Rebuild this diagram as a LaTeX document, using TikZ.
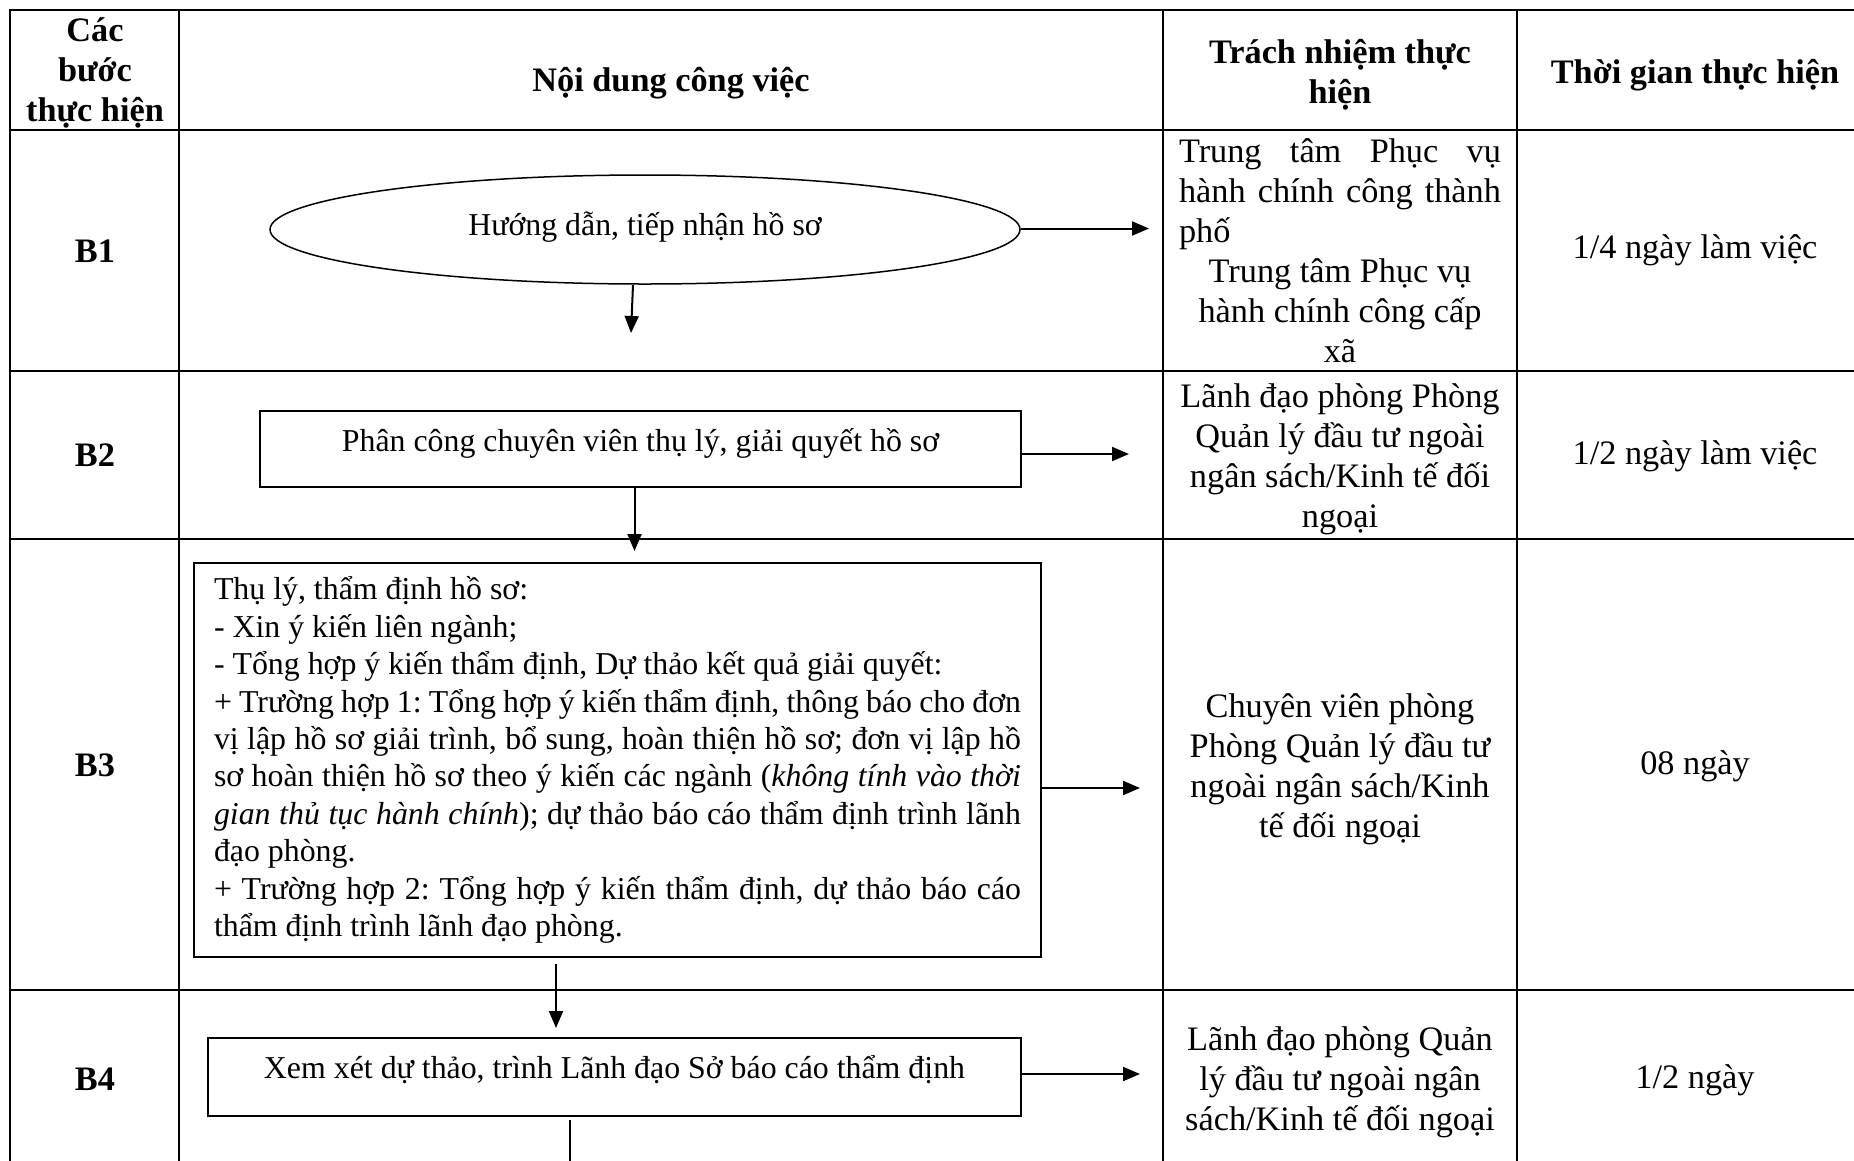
\documentclass[tikz,border=0pt]{standalone}
\usepackage{fontspec}
\setmainfont{Liberation Serif}
\usetikzlibrary{arrows.meta,shapes.geometric}

% type sizes: table cells and flow-chart boxes
\newcommand\celltext{\fontsize{34.3pt}{40pt}\selectfont}
\newcommand\flowtext{\fontsize{31.85pt}{37.4pt}\selectfont}
% fixed word spaces, as the font defines them
\newcommand\plainspaces{\spaceskip=\fontdimen2\font\relax\xspaceskip=0pt\frenchspacing}
% a line whose spaces stretch (or shrink) evenly to the given width
\newcommand\fullline[2]{\makebox[#1][s]{\spaceskip=\fontdimen2\font plus 1fil minus \fontdimen4\font\relax #2}}
% raise a label inside its box by adding depth below it
\newcommand\liftup[2]{\raisebox{0pt}[\height][\dimexpr\depth+#1\relax]{#2}}

\begin{document}
\begin{tikzpicture}[x=1pt,y=-1pt,
  execute at begin node=\plainspaces,
  rule/.style={line width=2.2pt},
  flowbox/.style={draw, rectangle, line width=1.8pt, inner sep=0pt, font=\flowtext},
  flowarrow/.style={line width=2pt, -{Triangle[length=17pt,width=14pt]}},
  head/.style={font=\celltext\bfseries, align=center, inner sep=0pt},
  stepname/.style={font=\celltext\bfseries, inner sep=0pt},
  cell/.style={font=\celltext, align=center, text width=350pt, inner sep=0pt},
  timecell/.style={font=\celltext, inner sep=0pt}]

\useasboundingbox (0,0) rectangle (1854,1160);
\fill[white] (0,0) rectangle (1854,1160);
\clip (0,0) rectangle (1854,1160);

% table frame and rules
\draw[rule] (10,10) rectangle (1873,1170);
\foreach \y in {130,371,539,990} \draw[rule] (10,\y) -- (1873,\y);
\foreach \x in {179,1163,1517} \draw[rule] (\x,10) -- (\x,1170);

% header row
\node[head] (hstep) at (95,73) {Các\\bước\\thực hiện};
\node[head] (hwork) at (671,83) {Nội dung công việc};
\node[head] (hresp) at (1340,75) {Trách nhiệm thực\\hiện};
\node[head] (htime) at (1695,75) {Thời gian thực hiện};

% step names
\node[stepname] (s1) at (95,251) {B1};
\node[stepname] (s2) at (95,455) {B2};
\node[stepname] (s3) at (95,765) {B3};
\node[stepname] (s4) at (95,1079) {B4};

% flow chart
\node[draw, ellipse, line width=1.5pt, inner sep=0pt, font=\flowtext,
      minimum width=750pt, minimum height=109pt] (e1) at (645,229.5)
      {\liftup{4pt}{Hướng dẫn, tiếp nhận hồ sơ}};

\node[flowbox, minimum width=761pt, minimum height=76pt] (b2) at (640.5,449)
      {\liftup{12pt}{Phân công chuyên viên thụ lý, giải quyết hồ sơ}};

\node[flowbox, minimum width=847pt, minimum height=394pt, align=left,
      text width=807pt] (b3) at (617.5,760) {%
Thụ lý, thẩm định hồ sơ:\\
- Xin ý kiến liên ngành;\\
- Tổng hợp ý kiến thẩm định, Dự thảo kết quả giải quyết:\\
\fullline{807pt}{+ Trường hợp 1: Tổng hợp ý kiến thẩm định, thông báo cho đơn}\\
\fullline{807pt}{vị lập hồ sơ giải trình, bổ sung, hoàn thiện hồ sơ; đơn vị lập hồ}\\
\fullline{807pt}{sơ hoàn thiện hồ sơ theo ý kiến các ngành (\textit{không tính vào thời}}\\
\fullline{807pt}{\textit{gian thủ tục hành chính}); dự thảo báo cáo thẩm định trình lãnh}\\
đạo phòng.\\
\fullline{807pt}{+ Trường hợp 2: Tổng hợp ý kiến thẩm định, dự thảo báo cáo}\\
thẩm định trình lãnh đạo phòng.\par\vspace{8pt}};

\node[flowbox, minimum width=813pt, minimum height=78pt] (b4) at (614.5,1077)
      {\liftup{14pt}{Xem xét dự thảo, trình Lãnh đạo Sở báo cáo thẩm định}};

% arrow ends
\coordinate (r1) at (1149,228.5);
\coordinate (d1) at (631,333);
\coordinate (r2) at (1129,454);
\coordinate (d2) at (634.5,551);
\coordinate (r3) at (1140,788);
\coordinate (d3) at (556,1028);
\coordinate (r4) at (1140,1074);
\coordinate (d4) at (570,1175);

\draw[flowarrow] ([yshift=1pt]e1.east) -- (r1);
\draw[flowarrow] ([xshift=-12pt]e1.south) -- (d1);
\draw[flowarrow] ([yshift=-5pt]b2.east) -- (r2);
\draw[flowarrow] ([xshift=-6pt]b2.south) -- (d2);
\draw[flowarrow] ([yshift=-28pt]b3.east) -- (r3);
\draw[flowarrow] ([xshift=-61.5pt,yshift=-6pt]b3.south) -- (d3);
\draw[flowarrow] ([yshift=3pt]b4.east) -- (r4);
\draw[line width=2pt] ([xshift=-44.5pt,yshift=-3pt]b4.south) -- (d4);

% responsibility column
\node[cell] (c1) at (1340,250.5) {%
\fullline{322pt}{Trung tâm Phục vụ}\\
\fullline{322pt}{hành chính công thành}\\
\makebox[322pt][l]{phố}\\
Trung tâm Phục vụ\\
hành chính công cấp\\
xã};
\node[cell] (c2) at (1340,459) {Lãnh đạo phòng Phòng\\Quản lý đầu tư ngoài\\ngân sách/Kinh tế đối\\ngoại};
\node[cell] (c3) at (1340,769) {Chuyên viên phòng\\Phòng Quản lý đầu tư\\ngoài ngân sách/Kinh\\tế đối ngoại};
\node[cell] (c4) at (1340,1082) {Lãnh đạo phòng Quản\\lý đầu tư ngoài ngân\\sách/Kinh tế đối ngoại};

% time column
\node[timecell] (t1) at (1695,250) {1/4 ngày làm việc};
\node[timecell] (t2) at (1695,456) {1/2 ngày làm việc};
\node[timecell] (t3) at (1695,766) {08 ngày};
\node[timecell] (t4) at (1695,1080) {1/2 ngày};
\end{tikzpicture}
\end{document}
